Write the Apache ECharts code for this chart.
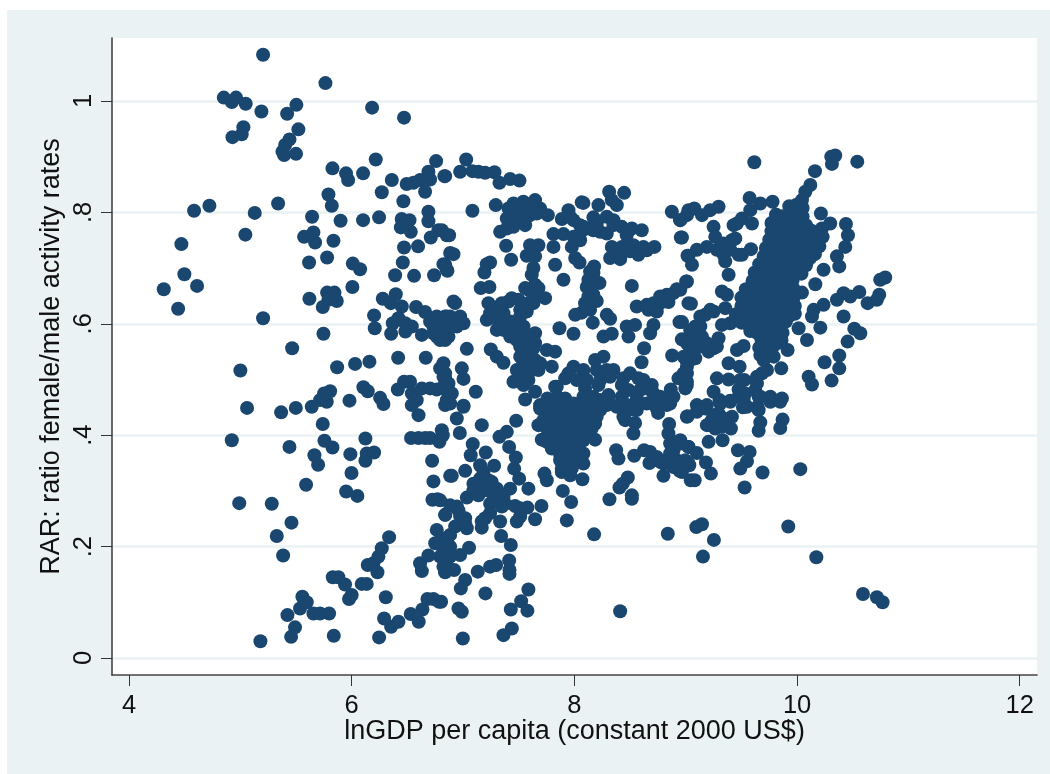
<!DOCTYPE html>
<html><head><meta charset="utf-8">
<script src="https://cdn.jsdelivr.net/npm/echarts@6/dist/echarts.min.js"></script>
<style>
html,body{margin:0;padding:0;background:#fff;width:1050px;height:774px;overflow:hidden}
#bg{position:absolute;left:7px;top:10px;width:1043px;height:764px;background:#EAF2F3}
#chart{position:absolute;left:0;top:0;width:1050px;height:774px}
</style></head><body><div id="bg"></div><div id="chart"></div>
<script>
const xTicks=[4,6,8,10,12];
const yTicks=[0,0.2,0.4,0.6,0.8,1];
const yTickLabels=['0','.2','.4','.6','.8','1'];
const xTitle='lnGDP per capita (constant 2000 US$)';
const yTitle='RAR: ratio female/male activity rates';

const upperLeft=[[5.204,1.083],[5.764,1.032],[4.851,1.006],[4.923,.998],[4.961,1.006],[5.048,.995],[5.189,.981],[5.503,.993],[5.42,.977],[6.183,.988],[6.47,.97],[5.521,.949],[5.027,.953],[5.012,.94],[4.929,.935],[5.441,.931],[5.402,.921],[5.378,.909],[5.393,.903],[5.5,.905],[6.216,.895],[5.827,.879],[5.949,.87],[5.968,.858],[6.102,.87],[6.36,.858],[6.758,.892],[6.689,.873],[6.833,.865],[6.704,.859],[6.614,.858],[6.554,.853],[6.494,.851],[6.27,.836],[6.659,.837],[5.791,.832],[6.464,.82],[5.821,.812],[4.722,.812],[4.584,.803],[5.339,.816],[5.129,.799],[5.644,.792],[5.9,.785],[6.102,.786],[6.246,.791],[6.689,.801],[6.689,.784],[6.449,.788],[6.519,.786],[6.441,.773],[6.531,.765],[5.045,.76],[6.779,.768],[6.71,.755],[6.854,.759],[5.656,.764],[5.572,.756],[5.671,.746],[5.836,.749],[4.47,.743],[6.47,.737],[6.596,.739],[6.884,.727],[5.617,.71],[5.779,.719],[6.01,.708],[6.075,.698],[6.459,.71],[6.39,.687],[6.56,.686],[6.74,.687],[6.824,.707],[6.854,.697],[4.497,.689],[4.611,.668],[4.312,.662],[4.441,.627],[6.006,.666],[5.779,.656],[5.845,.656],[5.866,.641],[5.74,.63],[5.791,.643],[5.62,.645],[6.279,.645],[6.396,.653],[6.351,.637],[6.45,.631],[6.578,.63],[6.659,.621],[5.204,.61],[6.201,.615],[6.207,.592],[6.354,.582],[6.369,.601],[6.42,.61],[6.48,.601],[6.54,.595],[6.482,.586],[6.63,.58],[6.764,.613],[6.704,.604],[6.794,.601],[6.854,.613],[6.734,.583],[6.794,.571],[6.869,.577],[5.746,.582],[5.465,.556],[6.734,.595],[6.809,.586],[6.884,.595],[6.764,.577],[6.854,.589]];

const lowerLeft=[[5,.516],[5.869,.522],[6.03,.528],[6.159,.532],[6.417,.539],[6.665,.539],[6.794,.52],[6.839,.502],[6.854,.481],[5.06,.449],[5.366,.441],[5.498,.449],[5.641,.451],[5.716,.463],[5.776,.46],[5.752,.475],[5.806,.479],[6.105,.486],[6.144,.479],[5.98,.462],[6.255,.467],[6.285,.456],[6.414,.482],[6.47,.496],[6.524,.496],[6.54,.475],[6.63,.484],[6.704,.484],[6.764,.482],[6.584,.463],[6.54,.454],[6.6,.436],[6.839,.454],[5.74,.42],[6.809,.409],[6.533,.395],[6.6,.395],[6.66,.395],[6.704,.395],[6.788,.388],[6.818,.4],[6.123,.394],[4.923,.391],[5.441,.379],[5.755,.39],[5.827,.378],[5.665,.364],[5.698,.347],[5.988,.366],[6.135,.367],[6.201,.369],[6.123,.354],[6.722,.354],[5.998,.332],[5.59,.311],[6.734,.317],[6.884,.327],[5.95,.299],[6.051,.291],[6.725,.284],[6.77,.285],[4.99,.278],[5.282,.277],[6.84,.257],[5.459,.243],[6.764,.23],[5.327,.219],[6.336,.217],[6.27,.197],[6.75,.206],[6.809,.215],[6.824,.194],[5.384,.184],[6.689,.184],[6.24,.182],[6.195,.17],[6.144,.167],[6.231,.154],[6.614,.17],[6.63,.156],[6.839,.154],[6.854,.176],[5.83,.145],[5.88,.145],[5.94,.132],[6.09,.133],[6.135,.133],[6,.113],[5.976,.106],[6.306,.109],[5.557,.11],[5.596,.1],[5.536,.089],[5.423,.077],[5.656,.08],[5.716,.08],[5.797,.08],[5.491,.055],[5.456,.038],[5.18,.03],[5.839,.04],[6.246,.037],[6.291,.071],[6.354,.056],[6.42,.065],[6.53,.079],[6.602,.065],[6.635,.087],[6.68,.106],[6.734,.106],[6.785,.101]];

const upperMiddle=[[7.028,.895],[6.839,.865],[6.974,.873],[7.084,.874],[7.138,.873],[7.198,.871],[7.282,.872],[7.327,.853],[7.423,.86],[7.507,.857],[7.084,.803],[7.294,.813],[7.647,.822],[7.542,.819],[7.453,.816],[7.408,.807],[7.393,.789],[7.468,.795],[7.528,.801],[7.602,.81],[7.692,.807],[7.761,.795],[7.558,.777],[7.453,.774],[7.333,.765],[7.393,.771],[7.602,.795],[6.875,.759],[6.809,.768],[6.914,.725],[6.839,.706],[6.86,.695],[7.387,.74],[7.432,.715],[7.602,.741],[7.677,.741],[7.572,.722],[7.647,.721],[7.812,.761],[7.902,.761],[7.812,.738],[7.827,.706],[7.902,.679],[7.632,.7],[7.617,.688],[7.213,.707],[7.243,.71],[7.192,.692],[7.159,.664],[7.237,.666],[7.887,.788],[7.947,.804],[7.992,.786],[8.066,.818],[8.081,.817],[8.216,.813],[8.312,.837],[8.447,.835],[8.381,.813],[8.336,.822],[8.171,.791],[8.291,.792],[8.231,.765],[8.111,.771],[8.051,.777],[8.351,.786],[8.426,.774],[8.516,.771],[8.605,.768],[8.291,.762],[8.051,.75],[7.977,.738],[8.007,.718],[8.046,.71],[8.336,.738],[8.426,.738],[8.53,.741],[8.62,.738],[8.719,.738],[8.575,.724],[8.321,.718],[8.411,.716],[8.956,.755],[8.875,.801],[8.95,.786],[9.025,.804],[9.016,.722],[8.177,.703],[8.141,.694],[8.225,.673],[8.111,.666],[8.156,.676],[8.201,.641],[8.096,.637],[8.141,.625],[8.066,.62],[8.007,.616],[8.516,.668],[8.56,.631],[8.71,.637],[8.77,.637],[8.83,.652],[8.92,.662],[9.004,.676],[8.665,.625],[8.74,.622],[8.845,.639],[8.291,.616],[8.321,.609],[8.165,.602],[7.866,.592],[7.992,.582],[8.261,.577],[8.336,.582],[8.47,.595],[8.545,.598],[8.486,.577],[8.71,.598],[8.68,.583],[8.944,.603],[8.965,.572],[8.626,.556],[8.878,.543],[8.603,.531],[9.025,.637]];

const upperMiddleFill=[[7.498,.807],[7.438,.801],[7.498,.783],[7.558,.789],[7.662,.798],[7.962,.792],[8.081,.774],[8.171,.768],[8.351,.777],[8.47,.759],[8.201,.78],[7.992,.756],[8.051,.762],[8.411,.724],[8.381,.733],[8.501,.73],[8.65,.732],[8.126,.649],[8.171,.652],[8.156,.643],[8.111,.631],[8.171,.691],[8.126,.679],[8.65,.634],[8.77,.649],[8.89,.655]];

const middleCore=[[6.914,.64],[6.929,.637],[6.914,.607],[6.839,.613],[6.974,.613],[7.004,.601],[6.854,.589],[6.794,.577],[6.854,.577],[7.034,.555],[6.989,.52],[7.004,.501],[7.114,.478],[7.004,.453],[6.824,.505],[6.854,.481],[6.854,.463],[7.249,.554],[7.303,.541],[7.363,.53],[7.228,.637],[7.318,.628],[7.408,.64],[7.498,.643],[7.587,.661],[7.677,.664],[7.737,.646],[7.632,.637],[7.572,.622],[7.513,.613],[7.213,.607],[7.303,.589],[7.423,.604],[7.423,.577],[7.513,.586],[7.647,.583],[7.543,.559],[7.632,.556],[7.752,.553],[7.827,.55],[7.572,.541],[7.647,.535],[7.797,.523],[7.528,.523],[7.618,.517],[7.513,.511],[7.453,.496],[7.543,.49],[7.647,.478],[7.558,.464],[7.758,.466],[7.692,.454],[7.827,.451],[7.827,.487],[7.917,.502],[7.992,.523],[8.081,.517],[8.186,.535],[8.261,.541],[8.096,.484],[7.917,.466],[7.932,.454],[8.216,.49],[8.291,.517],[8.351,.517],[8.306,.472],[8.231,.463],[8.441,.502],[8.5,.511],[8.575,.502],[8.65,.484],[8.695,.49],[8.426,.469],[8.561,.466],[8.71,.463],[8.86,.46],[8.866,.482],[8.935,.502],[9.01,.49],[9.004,.535]];

const middleBandFill=[[7.842,.487],[7.947,.511],[8.022,.499],[8.111,.499],[8.201,.517],[8.231,.499],[8.321,.505],[8.426,.49],[8.486,.481],[8.59,.481],[8.62,.499],[8.71,.475],[8.77,.469],[8.89,.469],[8.081,.469],[8.171,.469],[8.321,.457],[8.426,.457],[8.575,.454],[8.141,.457],[7.992,.457],[7.842,.469],[7.513,.559],[7.587,.571],[7.513,.541],[7.692,.529],[7.587,.556],[7.677,.517],[7.498,.505],[7.587,.499],[7.587,.523],[7.647,.565],[7.483,.517],[6.839,.511],[6.869,.493],[6.899,.475],[6.824,.487],[6.884,.457],[6.824,.529],[7.363,.619],[7.243,.619],[7.318,.604],[7.363,.589],[7.468,.598],[7.543,.595],[7.632,.649],[7.587,.637],[7.543,.631],[7.438,.646],[7.348,.637],[7.647,.67],[7.558,.664],[7.513,.625],[7.587,.577],[7.483,.571],[6.824,.601],[6.884,.613],[6.944,.595],[6.899,.595],[6.809,.586],[6.839,.571]];

const lowerMiddle=[[7.004,.451],[6.944,.43],[6.971,.404],[7.168,.418],[7.477,.426],[7.393,.406],[7.327,.397],[7.414,.379],[7.087,.384],[7.069,.364],[7.204,.369],[7.279,.345],[7.153,.346],[7.474,.36],[7.459,.34],[7.504,.322],[7.019,.336],[6.899,.327],[7.587,.304],[7.093,.313],[7.153,.322],[7.258,.316],[7.303,.304],[7.423,.304],[7.363,.289],[7.034,.288],[7.138,.292],[7.213,.301],[7.243,.277],[7.348,.272],[7.468,.273],[7.578,.27],[7.704,.273],[7.647,.249],[7.483,.245],[7.513,.254],[7.333,.245],[7.198,.251],[7.168,.234],[7.342,.219],[7.429,.203],[6.884,.274],[6.839,.257],[6.959,.265],[7.019,.251],[7.034,.233],[6.929,.236],[6.884,.221],[6.794,.283],[6.824,.2],[6.884,.2],[7.054,.198],[6.974,.185],[6.839,.185],[6.839,.155],[6.92,.158],[7.132,.155],[7.243,.164],[7.297,.167],[7.414,.175],[7.417,.158],[7.417,.151],[7.019,.14],[6.98,.125],[7.201,.116],[6.803,.101],[6.959,.089],[6.989,.083],[7.587,.123],[7.522,.102],[7.429,.087],[7.578,.085],[6.998,.035],[7.438,.053],[7.363,.041],[8.411,.084],[8.177,.222],[8.839,.223],[7.932,.247],[7.971,.28],[7.896,.3],[8.072,.321],[7.962,.328],[7.887,.334],[7.752,.319],[7.731,.331],[8.315,.285],[8.516,.292],[8.516,.286],[8.405,.306],[8.435,.313],[8.48,.324],[8.396,.358],[8.375,.373],[8.537,.363],[8.626,.373],[8.68,.37],[8.674,.35],[8.77,.352],[8.8,.327],[8.845,.358],[8.944,.336],[9.025,.349],[9.045,.319],[8.86,.385],[8.935,.388],[9.025,.379],[8.845,.403],[8.851,.42],[8.92,.355],[8.53,.403],[8.545,.422],[8.456,.427],[8.525,.446],[8.752,.44],[9.01,.433],[8.86,.457]];

const lowerMiddleFill=[[7.183,.334],[7.093,.301],[7.168,.31],[7.228,.319],[7.333,.295],[7.378,.277],[7.273,.283],[7.168,.245],[7.243,.26],[7.513,.269],[6.974,.254],[6.944,.272],[7.019,.241],[6.809,.212],[6.854,.212],[6.794,.182],[6.884,.182],[6.839,.17],[6.824,.164],[8.8,.349],[8.89,.373],[8.86,.367],[8.74,.361],[8.89,.343],[8.95,.385],[8.995,.355],[8.44,.433],[8.56,.445],[8.65,.457],[8.83,.454],[8.74,.448]];

const lowerMiddleDense=[[7.692,.448],[7.677,.418],[7.707,.392],[7.797,.376],[7.872,.365],[7.947,.334],[8.081,.367],[8.081,.349],[8.186,.392],[7.827,.445],[7.932,.457],[8.052,.448],[8.2,.433],[8.186,.421],[7.842,.415],[7.962,.421],[8.081,.421],[7.782,.397],[7.902,.391],[8.022,.397],[8.126,.403],[7.917,.361],[7.992,.373],[8.022,.355],[7.932,.346],[8.291,.454],[8.381,.451],[7.812,.43],[7.917,.436],[8.022,.433],[8.126,.439],[7.752,.412],[7.872,.403],[7.977,.406],[8.081,.391],[7.842,.379],[7.962,.385],[8.037,.379],[8.171,.454],[7.722,.427],[7.812,.412],[7.917,.418],[7.842,.397],[7.947,.403],[8.037,.412],[8.126,.421],[7.752,.388],[7.857,.388],[7.977,.394],[8.067,.403],[7.917,.376],[8.022,.367],[7.977,.358],[7.872,.355],[7.887,.34],[7.977,.34],[8.111,.451],[7.992,.451],[7.872,.457],[7.752,.454],[7.782,.445],[7.857,.43],[8.231,.445],[8.111,.427],[8.156,.412],[8.052,.439],[8.47,.454],[7.992,.424],[8.067,.43],[7.917,.403],[7.812,.385],[7.902,.361],[8.022,.388]];

const upperRight=[[9.616,.89],[10.307,.9],[10.343,.902],[10.313,.887],[10.541,.891],[10.161,.874],[10.119,.849],[10.074,.837],[10.044,.822],[9.574,.826],[9.67,.816],[9.78,.819],[9.295,.81],[9.22,.804],[9.077,.807],[9.146,.795],[9.011,.795],[8.951,.786],[9.25,.774],[9.265,.756],[9.19,.738],[9.1,.733],[9.026,.722],[9.056,.706],[8.966,.755],[9.43,.777],[9.505,.789],[9.595,.78],[9.58,.804],[9.445,.753],[9.34,.744],[9.325,.73],[9.355,.712],[9.385,.688],[9.505,.724],[9.586,.734],[10.214,.798],[10.298,.78],[10.223,.771],[10.439,.779],[10.457,.759],[10.433,.738],[10.358,.721],[10.379,.703],[10.238,.697],[10.164,.671],[10.044,.656],[9.011,.676],[8.951,.661],[9.325,.658],[9.37,.652],[9.355,.628],[9.25,.622],[9.175,.616],[9.047,.636],[8.966,.603],[9.086,.595],[9.146,.577],[9.295,.574],[8.981,.571],[9.131,.559],[9.25,.556],[9.04,.553],[9.086,.538],[9.011,.523],[9.011,.496],[8.996,.484],[9.46,.553],[9.52,.56],[9.385,.529],[9.484,.523],[9.28,.502],[9.385,.5],[9.25,.478],[9.304,.463],[9.4,.462],[9.526,.499],[9.475,.482],[9.52,.463],[9.64,.493],[9.685,.511],[9.858,.52],[9.915,.553],[9.67,.544],[9.79,.541],[9.655,.469],[9.76,.469],[9.864,.466],[9.645,.451],[9.1,.454],[9.19,.454],[10.089,.571],[10.209,.593],[10.014,.592],[10.134,.613],[10.149,.625],[10.238,.634],[10.358,.643],[10.418,.655],[10.478,.649],[10.559,.657],[10.418,.613],[10.514,.591],[10.568,.583],[10.454,.568],[10.379,.543],[10.247,.531],[10.379,.52],[10.104,.505],[10.134,.491],[10.31,.498],[10.634,.637],[10.738,.652],[10.717,.643],[10.747,.679],[10.792,.683],[9.4,.601],[9.325,.598]];

const upperRightFill=[[9.04,.589],[9.131,.595],[9.19,.565],[9.086,.571],[9.28,.559],[9.011,.565],[9.205,.55],[8.981,.541],[9.041,.535],[8.981,.511],[9.011,.511],[9.131,.613],[9.22,.625],[9.64,.505],[9.625,.481],[9.73,.517],[9.7,.535],[9.76,.547],[9.819,.565],[9.67,.469],[9.28,.733],[9.34,.724],[9.4,.733],[9.415,.75],[9.46,.78],[9.475,.724],[9.49,.499],[9.535,.475],[9.475,.469],[9.55,.451]];

const rightBlob=[[9.93,.811],[9.99,.813],[10.05,.808],[9.81,.796],[9.87,.793],[9.93,.797],[9.99,.795],[10.05,.792],[9.77,.781],[9.84,.778],[9.9,.782],[9.96,.779],[10.02,.781],[10.08,.777],[9.77,.766],[9.83,.763],[9.89,.767],[9.95,.764],[10.01,.766],[10.07,.763],[10.13,.767],[9.75,.751],[9.81,.748],[9.87,.752],[9.93,.749],[9.99,.751],[10.05,.748],[10.11,.752],[10.17,.749],[10.23,.756],[9.72,.736],[9.78,.733],[9.84,.737],[9.9,.734],[9.96,.736],[10.02,.733],[10.08,.737],[10.14,.734],[10.2,.739],[9.7,.721],[9.76,.718],[9.82,.722],[9.88,.719],[9.94,.721],[10,.718],[10.06,.722],[10.12,.719],[10.16,.725],[9.66,.707],[9.72,.704],[9.78,.708],[9.84,.705],[9.9,.707],[9.96,.704],[10.02,.708],[10.08,.705],[10.1,.715],[9.62,.692],[9.68,.689],[9.74,.693],[9.8,.69],[9.86,.692],[9.92,.689],[9.98,.693],[10.04,.69],[9.6,.677],[9.66,.674],[9.72,.678],[9.78,.675],[9.84,.677],[9.9,.674],[9.96,.678],[9.54,.662],[9.6,.659],[9.66,.663],[9.72,.66],[9.8,.661],[9.86,.664],[9.92,.66],[9.97,.662],[9.5,.647],[9.56,.644],[9.62,.648],[9.68,.645],[9.74,.647],[9.81,.645],[9.87,.647],[9.93,.644],[9.97,.648],[9.5,.632],[9.56,.629],[9.62,.633],[9.68,.63],[9.74,.627],[9.82,.63],[9.88,.633],[9.94,.629],[9.98,.632],[9.45,.617],[9.51,.614],[9.57,.618],[9.63,.615],[9.69,.619],[9.75,.606],[9.81,.613],[9.87,.617],[9.93,.614],[9.98,.618],[9.5,.602],[9.56,.599],[9.62,.603],[9.68,.6],[9.74,.6],[9.8,.603],[9.86,.6],[9.9,.604],[9.58,.587],[9.64,.584],[9.7,.588],[9.76,.585],[9.82,.588],[9.87,.584],[9.68,.572],[9.74,.569],[9.8,.573],[9.86,.57],[9.66,.557],[9.72,.554],[9.78,.558]];

const lowerRight=[[9.017,.434],[9.1,.442],[9.176,.448],[9.31,.457],[9.4,.46],[9.514,.45],[9.655,.445],[9.76,.46],[9.849,.46],[9.22,.418],[9.295,.439],[9.415,.433],[9.406,.412],[9.265,.412],[9.67,.423],[9.655,.408],[9.87,.428],[9.849,.413],[9.205,.388],[9.331,.391],[9.469,.373],[9.574,.37],[9.026,.379],[9.1,.368],[8.951,.391],[9.032,.346],[9.182,.351],[9.55,.353],[9.49,.34],[9.226,.331],[9.08,.319],[8.966,.334],[9.529,.306],[9.69,.333],[10.029,.339],[9.146,.24],[9.095,.235],[9.921,.236],[9.253,.212],[9.155,.182],[10.173,.181],[10.592,.115],[10.717,.109],[10.768,.1],[9.235,.427],[9.34,.43],[9.19,.418],[9.325,.415],[9.25,.436]];

const points=[].concat(upperLeft,lowerLeft,upperMiddle,upperMiddleFill,middleCore,middleBandFill,lowerMiddle,lowerMiddleFill,lowerMiddleDense,upperRight,upperRightFill,rightBlob,lowerRight);

const font='"Liberation Sans", Arial, sans-serif';
const ink='#111';
const chart=echarts.init(document.getElementById('chart'),null,{renderer:'canvas'});
chart.setOption({
  animation:false,
  backgroundColor:'transparent',
  grid:{left:112,top:38,width:925,height:637,show:true,backgroundColor:'#fff',borderWidth:0},
  xAxis:{type:'value',min:3.847,max:12.155,
    name:xTitle,nameLocation:'middle',nameGap:57,nameMoveOverlap:false,
    nameTextStyle:{color:ink,fontFamily:font,fontSize:27,verticalAlign:'middle'},
    axisLine:{show:true,onZero:false,lineStyle:{color:'#444',width:1.6}},
    axisTick:{show:true,length:11,customValues:xTicks,lineStyle:{color:'#333',width:1}},
    axisLabel:{show:true,customValues:xTicks,margin:18,color:ink,fontFamily:font,fontSize:25.5,showMinLabel:true,showMaxLabel:true},
    splitLine:{show:false}},
  yAxis:{type:'value',min:-0.0305,max:1.113,
    name:yTitle,nameLocation:'middle',nameGap:60,nameRotate:90,nameMoveOverlap:false,
    nameTextStyle:{color:ink,fontFamily:font,fontSize:27,verticalAlign:'middle'},
    axisLine:{show:true,onZero:false,lineStyle:{color:'#444',width:1.6}},
    axisTick:{show:true,length:11,customValues:yTicks,lineStyle:{color:'#333',width:1}},
    axisLabel:{show:true,customValues:yTicks,rotate:90,margin:15,color:ink,fontFamily:font,fontSize:25.5,
      formatter:v=>yTickLabels[yTicks.findIndex(t=>Math.abs(t-v)<1e-6)]},
    splitLine:{show:true,lineStyle:{color:'#EAF2F3',width:2.5}}},
  series:[{type:'scatter',data:points,symbol:'circle',symbolSize:14,silent:true,
    itemStyle:{color:'#1A476F',opacity:1}}]
});
</script></body></html>
